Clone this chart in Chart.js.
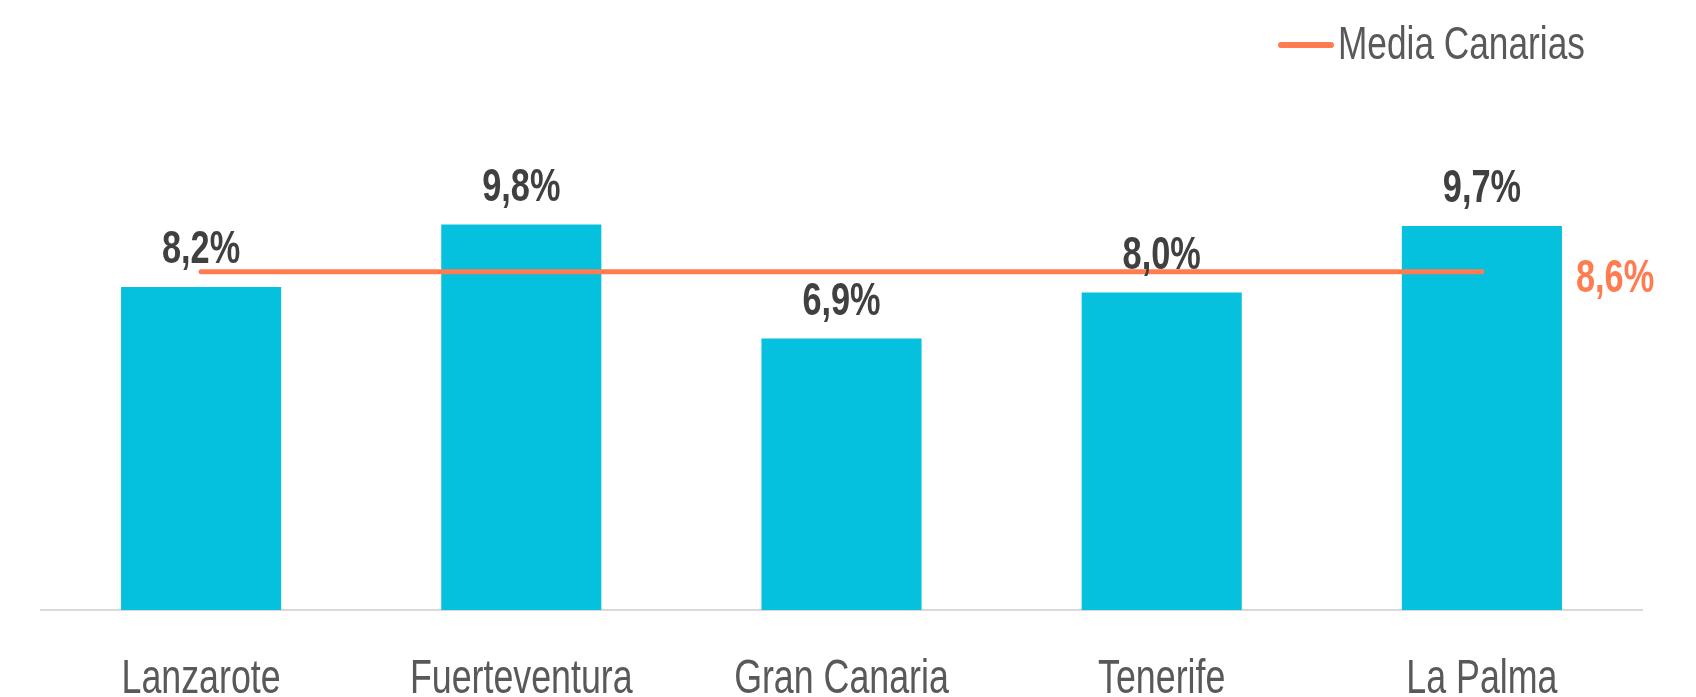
<!DOCTYPE html>
<html>
<head>
<meta charset="utf-8">
<script src="https://cdn.jsdelivr.net/npm/chart.js@4"></script>
<style>
  html, body { margin: 0; padding: 0; background: #fff; }
  #wrap { width: 1696px; height: 697px; position: relative; }
</style>
</head>
<body>
<div id="wrap"><canvas id="chart"></canvas></div>
<script>
// datos (alturas; textos tal como aparecen)
const islas = ['Lanzarote', 'Fuerteventura', 'Gran Canaria', 'Tenerife', 'La Palma'];
const valores = [8.21, 9.8, 6.9, 8.07, 9.76];
const textosValores = ['8,2%', '9,8%', '6,9%', '8,0%', '9,7%'];
const mediaCanarias = [8.6, 8.6, 8.6, 8.6, 8.6];
const textoMedia = '8,6%';
const etiquetaMedia = 'Media Canarias';

const azul = '#05C1DE';
const naranja = '#FF7C50';
const FONT = "'Liberation Sans', Arial, sans-serif";

// texto estrecho (la fuente original es condensada)
function textoEstrecho(ctx, txt, x, y, font, color, align, sx) {
  ctx.save();
  ctx.font = font;
  ctx.fillStyle = color;
  ctx.textAlign = align;
  ctx.textBaseline = 'alphabetic';
  ctx.translate(x, y);
  ctx.scale(sx, 1);
  ctx.fillText(txt, 0, 0);
  ctx.restore();
}

const etiquetas = {
  id: 'etiquetas',
  afterDatasetsDraw(chart) {
    const ctx = chart.ctx;
    const barras = chart.getDatasetMeta(0).data;
    const linea = chart.getDatasetMeta(1).data;
    const xs = chart.scales.x;

    // valores encima de cada barra
    barras.forEach((b, i) => {
      textoEstrecho(ctx, textosValores[i], b.x, b.y - 24, 'bold 47px ' + FONT, '#404040', 'center', 0.73);
    });

    // etiqueta de la media a la derecha
    const ult = barras[barras.length - 1];
    const p = linea[linea.length - 1];
    textoEstrecho(ctx, textoMedia, ult.x + ult.width / 2 + 14, p.y + 20,
      'bold 47px ' + FONT, naranja, 'left', 0.73);

    // categorias
    islas.forEach((c, i) => {
      textoEstrecho(ctx, c, xs.getPixelForValue(i), 693, '49px ' + FONT, '#595959', 'center', 0.73);
    });

    // leyenda
    ctx.save();
    ctx.strokeStyle = naranja;
    ctx.lineWidth = 6;
    ctx.lineCap = 'round';
    ctx.beginPath();
    ctx.moveTo(1281, 45);
    ctx.lineTo(1331, 45);
    ctx.stroke();
    ctx.restore();
    textoEstrecho(ctx, etiquetaMedia, 1338, 59, '47px ' + FONT, '#595959', 'left', 0.75);
  }
};

const ctx = document.getElementById('chart').getContext('2d');
new Chart(ctx, {
  type: 'bar',
  data: {
    labels: islas,
    datasets: [
      {
        type: 'bar',
        data: valores,
        backgroundColor: azul,
        barPercentage: 0.5,
        categoryPercentage: 1,
        order: 1
      },
      {
        type: 'line',
        label: etiquetaMedia,
        data: mediaCanarias,
        borderColor: naranja,
        borderWidth: 5,
        borderCapStyle: 'round',
        pointRadius: 0,
        tension: 0,
        order: 0
      }
    ]
  },
  options: {
    responsive: true,
    maintainAspectRatio: false,
    animation: false,
    layout: { padding: { top: 138, bottom: 87, left: 41, right: 54 } },
    plugins: {
      legend: { display: false },
      tooltip: { enabled: false }
    },
    scales: {
      x: {
        grid: { display: false, drawTicks: false },
        border: { color: '#d9d9d9', width: 2 },
        ticks: { display: false }
      },
      y: {
        display: false,
        min: 0,
        max: 12
      }
    }
  },
  plugins: [etiquetas]
});
</script>
</body>
</html>
